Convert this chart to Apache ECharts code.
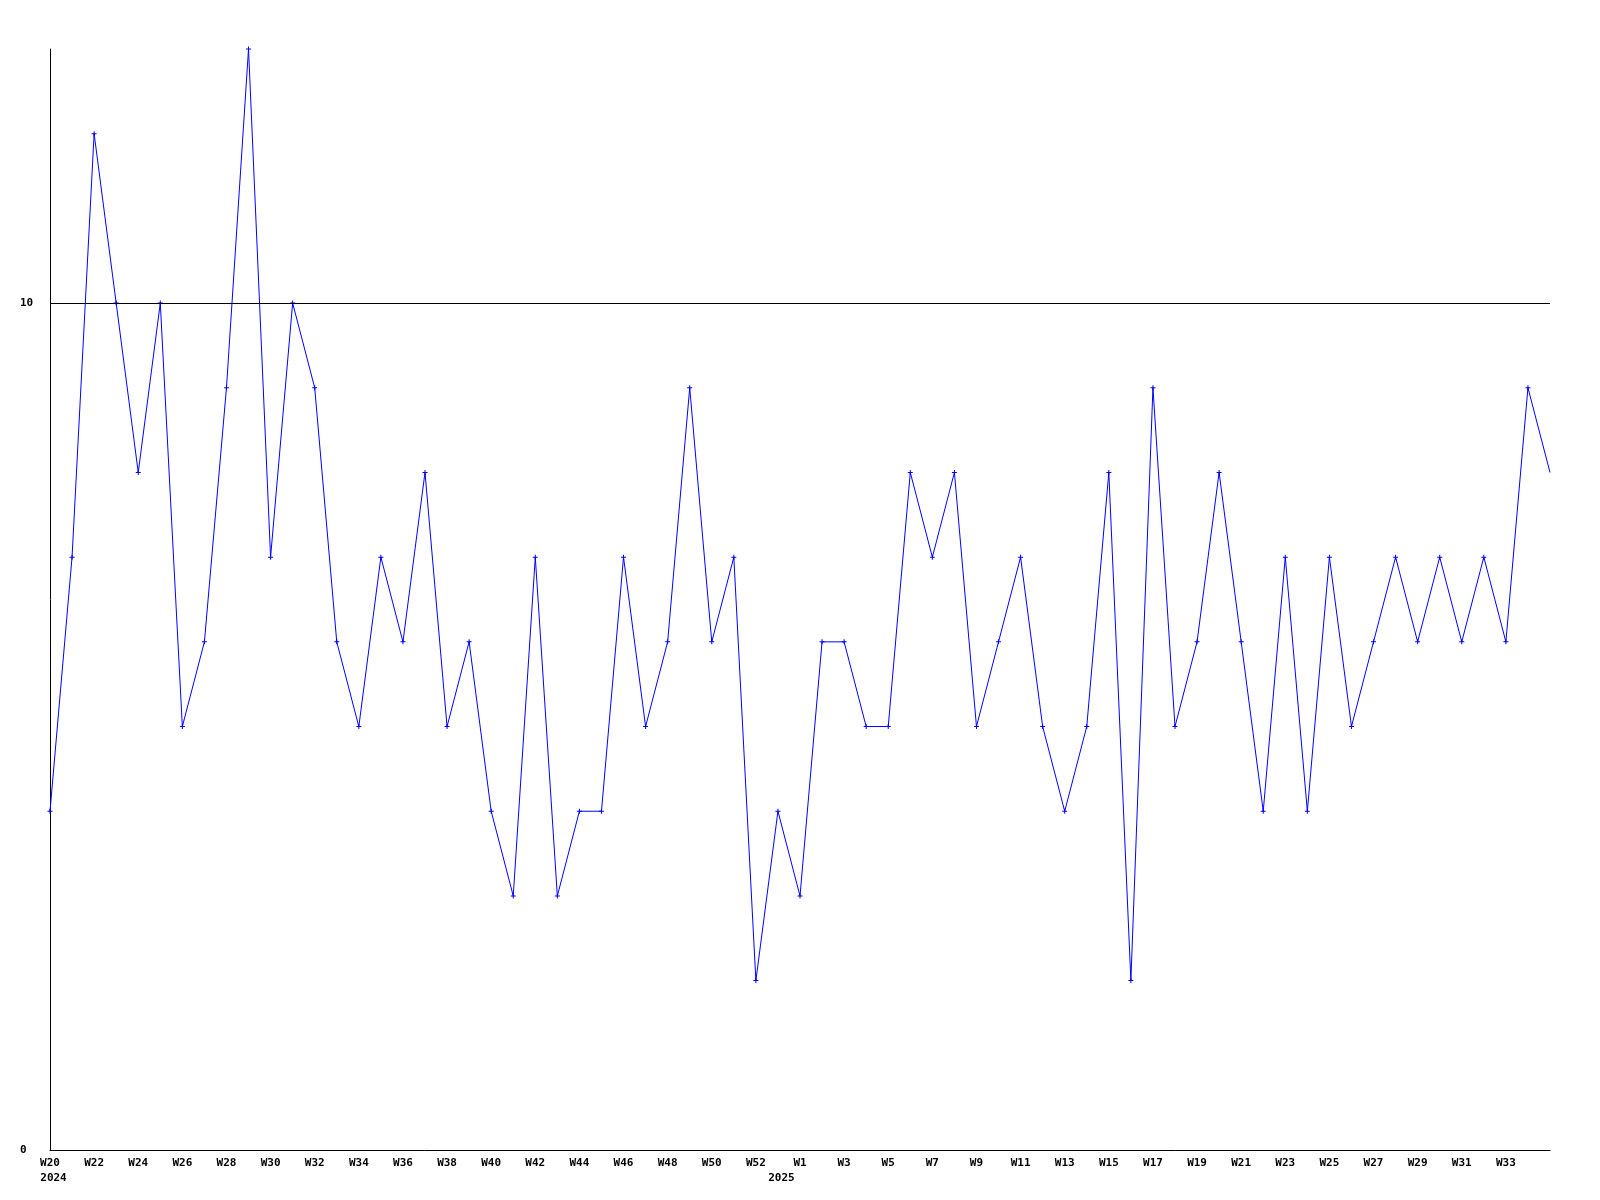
<!DOCTYPE html>
<html>
<head>
<meta charset="utf-8">
<script src="https://cdn.jsdelivr.net/npm/echarts@6/dist/echarts.min.js"></script>
<style>html,body{margin:0;padding:0;background:#fff}#c{width:1600px;height:1200px}</style>
</head>
<body>
<div id="c"></div>
<script>
var weeks = ['W20','W21','W22','W23','W24','W25','W26','W27','W28','W29','W30','W31','W32','W33','W34','W35','W36','W37','W38','W39','W40','W41','W42','W43','W44','W45','W46','W47','W48','W49','W50','W51','W52','W53',
  'W1','W2','W3','W4','W5','W6','W7','W8','W9','W10','W11','W12','W13','W14','W15','W16','W17','W18','W19','W20','W21','W22','W23','W24','W25','W26','W27','W28','W29','W30','W31','W32','W33','W34','W35'];
var values2024 = [4,7,12,10,8,10,5,6,9,13,7,10,9,6,5,7,6,8,5,6,4,3,7,3,4,4,7,5,6,9,6,7,2,4];
var values2025 = [3,6,6,5,5,8,7,8,5,6,7,5,4,5,8,2,9,5,6,8,6,4,7,4,7,5,6,7,6,7,6,7,6,9,8];
var yearLabels = {0:'2024', 33:'2025'};
var yTicks = [0, 10];
var gridLines = [10];

var values = values2024.concat(values2025);
var years = weeks.map(function(w,i){ return yearLabels[i] || ''; });
var font = {fontFamily:'DejaVu Sans Mono', fontWeight:'bold', fontSize:11, color:'#000'};
var plus = 'path://M2,0H3V2H5V3H3V5H2V3H0V2H2Z';
var data = values.map(function(v,i){
  return i === values.length-1 ? {value:v, symbol:'none'} : v;
});

var chart = echarts.init(document.getElementById('c'), null, {renderer:'canvas'});
chart.setOption({
  animation:false,
  backgroundColor:'#fff',
  grid:{left:50, right:50, top:49, bottom:50, containLabel:false},
  xAxis:[{
    type:'category', data:weeks, boundaryGap:false,
    axisLine:{lineStyle:{color:'#000', width:1}},
    axisTick:{show:false},
    axisLabel:Object.assign({interval:1, margin:8, showMaxLabel:false}, font),
    splitLine:{show:false}
  },{
    type:'category', data:years, boundaryGap:false, position:'bottom',
    axisLine:{show:false}, axisTick:{show:false},
    axisLabel:Object.assign({interval:0, margin:23, padding:[0,0,0,7]}, font),
    splitLine:{show:false}
  }],
  yAxis:{
    type:'value', min:0, max:13, interval:10,
    axisLine:{show:true, lineStyle:{color:'#000', width:1}},
    axisTick:{show:false},
    axisLabel:Object.assign({align:'left', margin:30, formatter:function(v){ return yTicks.indexOf(v)>=0 ? String(v) : ''; }}, font),
    splitLine:{show:false}
  },
  series:[{
    type:'line', data:data, xAxisIndex:0,
    lineStyle:{color:'#0000ff', width:1},
    itemStyle:{color:'#0000ff'},
    symbol:plus, symbolSize:5, showAllSymbol:true,
    markLine:{
      silent:true, symbol:'none', label:{show:false},
      lineStyle:{color:'#000', width:1, type:'solid'},
      data: gridLines.map(function(g){ return {yAxis:g}; })
    },
    z:3
  }]
});
</script>
</body>
</html>
